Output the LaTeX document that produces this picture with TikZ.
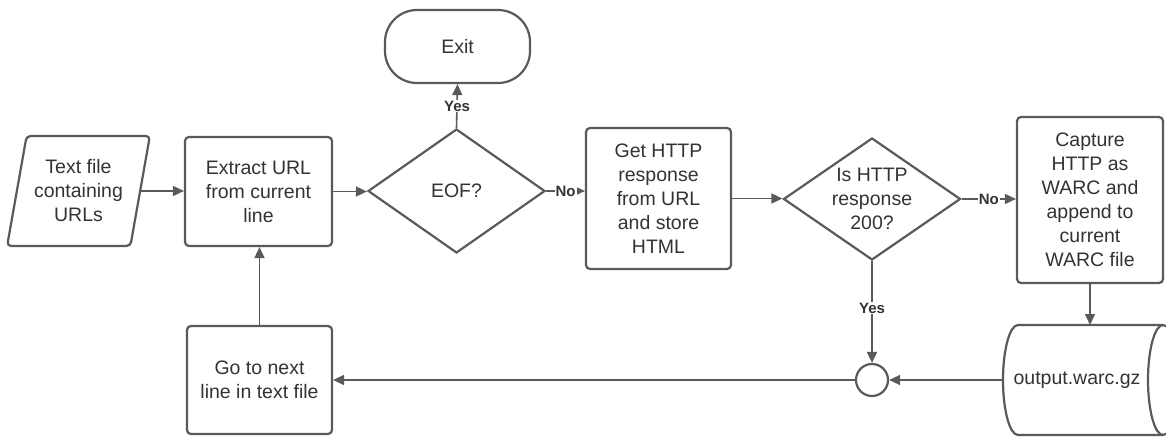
\documentclass[tikz,border=0pt]{standalone}
\usepackage{fontspec}
\setmainfont{Liberation Sans}
\usetikzlibrary{shapes.geometric,arrows.meta}
\definecolor{ln}{HTML}{5A5A5A}
\definecolor{tx}{HTML}{333333}
\begin{document}
\begin{tikzpicture}[x=1pt,y=1pt,
 every node/.style={text=tx, font=\fontsize{19.5}{24}\selectfont, align=center},
 proc/.style={draw=ln, line width=2.2pt, rounded corners=4pt, inner sep=0pt},
 dec/.style={draw=ln, line width=2.2pt, diamond, aspect=1.43, inner sep=0pt, minimum width=177pt, minimum height=124pt},
 arr/.style={draw=ln, line width=1.6pt, -{Triangle[length=11pt,width=10pt]}},
 lbl/.style={fill=white, inner sep=1pt, font=\fontsize{15}{18}\selectfont\bfseries}]
\useasboundingbox (0,0) rectangle (1166,437);
\fill[white] (0,0) rectangle (1166,437);
\node[trapezium, draw=ln, line width=2.2pt, trapezium left angle=75, trapezium right angle=105, trapezium stretches=true, minimum width=143pt, minimum height=110pt, rounded corners=4pt, inner sep=0pt] (par) at (78.5,246) {Text file\\containing\\URLs};
\node[proc, minimum width=147pt, minimum height=109pt] (ext) at (258.5,245.5) {Extract URL\\from current\\line};
\node[dec] (eof) at (456.5,246) {EOF?};
\node[proc, rounded corners=32pt, minimum width=145pt, minimum height=73pt] (exit) at (457.5,390.5) {Exit};
\node[proc, minimum width=145pt, minimum height=141pt] (get) at (658.5,238.5) {Get HTTP\\response\\from URL\\and store\\HTML};
\node[dec, minimum height=122pt] (http) at (872,238) {Is HTTP\\response\\200?};
\node[proc, minimum width=146pt, minimum height=166pt] (cap) at (1090,237) {Capture\\HTTP as\\WARC and\\append to\\current\\WARC file};
\node[proc, minimum width=145pt, minimum height=108pt] (go) at (259.5,57) {Go to next\\line in text file};
\node[draw=ln, line width=2.2pt, circle, minimum size=32pt, inner sep=0pt] (j) at (872,57) {};
\draw[ln, line width=2.2pt] (1018,112) -- (1163,112) arc[start angle=90, end angle=-90, x radius=15, y radius=55] -- (1018,2) arc[start angle=270, end angle=90, x radius=15, y radius=55] -- cycle;
\draw[ln, line width=2.2pt] (1163,112) arc[start angle=90, end angle=270, x radius=15, y radius=55];
\node (st) at (1077,57) {output.warc.gz};
\coordinate (stl) at (1003,57);
\coordinate (stt) at (1090,112);
\draw[arr] (par.east) -- (par.east -| ext.west);
\draw[arr] (ext.east) -- (ext.east -| eof.west);
\draw[arr] (eof.north) -- node[lbl]{Yes} (exit.south);
\draw[arr] (eof.east) -- node[lbl]{No} (eof.east -| get.west);
\draw[arr] (get.east) -- (get.east -| http.west);
\draw[arr] (http.east) -- node[lbl]{No} (http.east -| cap.west);
\draw[arr] (cap.south) -- (stt);
\draw[arr] (http.south) -- node[lbl, pos=0.46]{Yes} (j.north);
\draw[arr] (stl) -- (j.east);
\draw[arr] (j.west) -- (j.west -| go.east);
\draw[arr] (go.north) -- (go.north |- ext.south);
\end{tikzpicture}
\end{document}
